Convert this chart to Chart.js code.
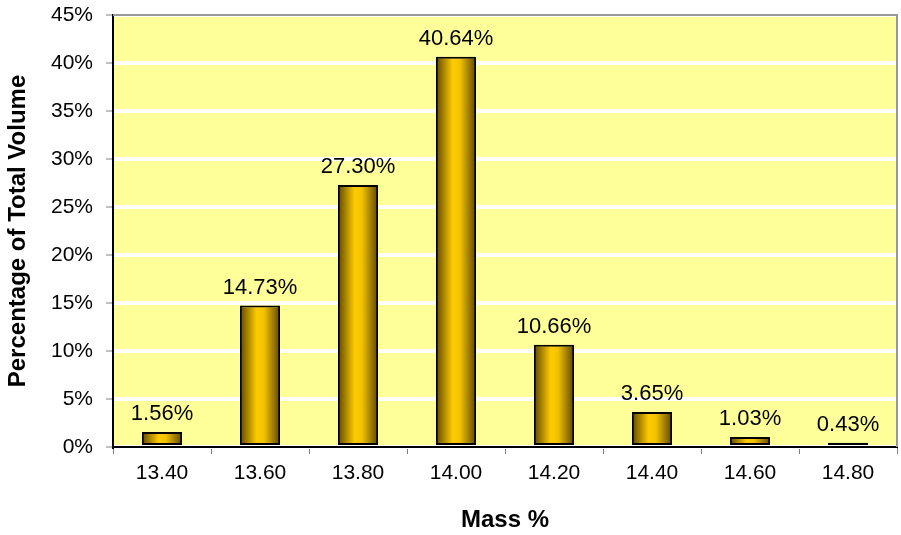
<!DOCTYPE html>
<html>
<head>
<meta charset="utf-8">
<script src="https://cdn.jsdelivr.net/npm/chart.js@4"></script>
<style>
  html, body { margin: 0; padding: 0; background: #fff; }
  #wrap { width: 901px; height: 535px; }
</style>
</head>
<body>
<div id="wrap"><canvas id="chart" width="901" height="535"></canvas></div>
<script>
const categories = ['13.40', '13.60', '13.80', '14.00', '14.20', '14.40', '14.60', '14.80'];
const volumePct = [1.56, 14.73, 27.30, 40.64, 10.66, 3.65, 1.03, 0.43];

const FONT = '"Liberation Sans", Arial, sans-serif';
const BAR_PCT = 0.41;

// yellow plot background + grey frame
const plotFrame = {
    id: 'plotFrame',
    beforeDraw(chart) {
        const { ctx, chartArea: a } = chart;
        ctx.save();
        ctx.fillStyle = '#FFFF99';
        ctx.fillRect(a.left, a.top, a.right - a.left, a.bottom - a.top);
        ctx.restore();
    },
    afterDraw(chart) {
        const { ctx, chartArea: a } = chart;
        ctx.save();
        ctx.strokeStyle = '#999999';
        ctx.lineWidth = 2;
        ctx.beginPath();
        ctx.moveTo(a.left, a.top);
        ctx.lineTo(a.right, a.top);
        ctx.lineTo(a.right, a.bottom);
        ctx.stroke();
        ctx.restore();
    }
};

// value labels above bars
const valueLabels = {
    id: 'valueLabels',
    afterDatasetsDraw(chart) {
        const ctx = chart.ctx;
        ctx.save();
        ctx.font = '22px ' + FONT;
        ctx.fillStyle = '#000';
        ctx.textAlign = 'center';
        ctx.textBaseline = 'bottom';
        chart.getDatasetMeta(0).data.forEach((el, i) => {
            ctx.fillText(volumePct[i].toFixed(2) + '%', el.x, el.y - 7);
        });
        ctx.restore();
    }
};

// horizontal shading of each bar
function barFill(c) {
    const chart = c.chart;
    const xs = chart.scales.x;
    if (!xs || !chart.chartArea) return '#FFCC00';
    const cx = xs.getPixelForValue(c.dataIndex);
    const w = (xs.width / categories.length) * BAR_PCT;
    const g = chart.ctx.createLinearGradient(cx - w / 2, 0, cx + w / 2, 0);
    g.addColorStop(0, '#5E4600');
    g.addColorStop(0.42, '#FFCC00');
    g.addColorStop(0.6, '#F2C200');
    g.addColorStop(1, '#5E4600');
    return g;
}

new Chart(document.getElementById('chart'), {
    type: 'bar',
    data: {
        labels: categories,
        datasets: [{
            data: volumePct,
            backgroundColor: barFill,
            borderColor: '#000',
            borderWidth: 2,
            borderSkipped: false,
            barPercentage: BAR_PCT,
            categoryPercentage: 1
        }]
    },
    options: {
        responsive: false,
        animation: false,
        layout: { padding: { top: 15, right: 4, left: 0, bottom: 0 } },
        plugins: {
            legend: { display: false },
            tooltip: { enabled: false }
        },
        scales: {
            x: {
                grid: { drawOnChartArea: false, offset: true, tickLength: 7, color: '#808080' },
                border: { color: '#000', width: 2 },
                ticks: { color: '#000', font: { size: 21, family: FONT }, padding: 7 },
                title: { display: true, text: 'Mass %', color: '#000', font: { size: 24, weight: 'bold', family: FONT }, padding: { top: 18, bottom: 0 } },
                afterFit(s) { s.height = 88; s.paddingLeft = 0; s.paddingRight = 0; }
            },
            y: {
                min: 0, max: 45,
                ticks: { stepSize: 5, color: '#000', font: { size: 21, family: FONT }, callback: v => v + '%', padding: 13 },
                grid: { color: '#FFFFFF', lineWidth: 4, tickLength: 7, tickColor: '#808080', tickWidth: 1 },
                border: { color: '#000', width: 2 },
                title: { display: true, text: 'Percentage of Total Volume', color: '#000', font: { size: 24, weight: 'bold', family: FONT }, padding: { bottom: 2 } },
                afterFit(s) { s.width = 113; s.paddingTop = 0; s.paddingBottom = 0; }
            }
        }
    },
    plugins: [plotFrame, valueLabels]
});
</script>
</body>
</html>
